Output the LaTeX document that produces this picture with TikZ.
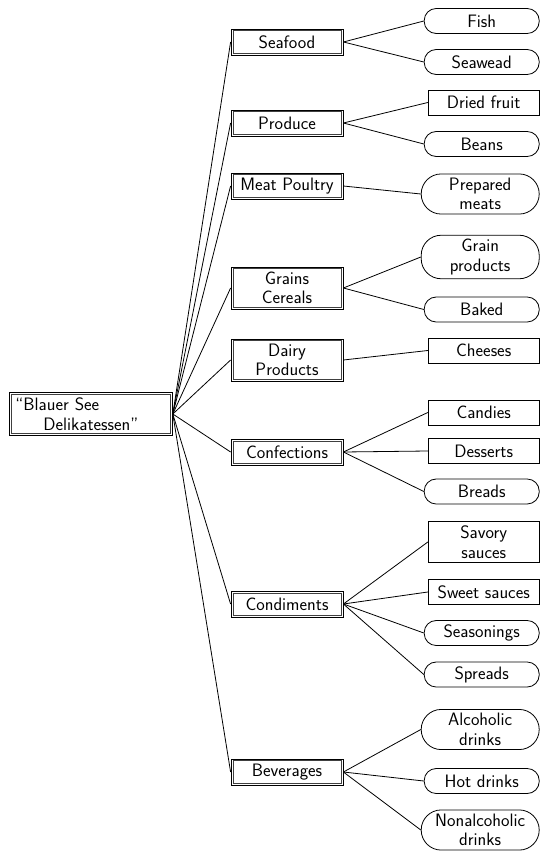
\documentclass[tikz,border=0pt]{standalone}
\begin{document}
\begin{tikzpicture}[x=1pt,y=-1pt,
  every node/.style={font=\sffamily\fontsize{18}{19.5}\selectfont},
  rootbox/.style={draw,line width=0.8pt,align=left,
    text width=151pt,inner xsep=6pt,inner ysep=3pt,minimum height=43pt,anchor=west},
  catbox/.style={draw,line width=0.8pt,align=center,
    minimum width=112pt,minimum height=26pt,inner xsep=2pt,inner ysep=5pt},
  innerline/.style={line width=0.6pt,draw=black!75},
  leafpill/.style={draw,line width=0.8pt,rounded corners=12pt,align=center,
    minimum width=115pt,minimum height=25pt,inner xsep=2pt,inner ysep=4pt,anchor=east},
  leafpilltall/.style={leafpill,rounded corners=20pt,minimum width=118pt},
  leafrect/.style={draw,line width=0.8pt,align=center,
    minimum width=111pt,minimum height=25pt,inner xsep=2pt,inner ysep=4pt,anchor=east},
  link/.style={line width=0.8pt}]
\useasboundingbox (0,0) rectangle (541,853);

% root
\node[rootbox] (root) at (9,414) {“Blauer See\\\hspace*{28pt}Delikatessen”};

% categories
\node[catbox] (sea)  at (287,42)  {Seafood};
\node[catbox] (prod) at (287,123) {Produce};
\node[catbox] (meat) at (287,186) {Meat Poultry};
\node[catbox] (gra)  at (287,288) {Grains\\Cereals};
\node[catbox] (dai)  at (287,360) {Dairy\\Products};
\node[catbox] (conf) at (287,452) {Confections};
\node[catbox] (cond) at (287,604) {Condiments};
\node[catbox] (bev)  at (287,772) {Beverages};

% second frame line inside the double-bordered boxes
\foreach \n in {root,sea,prod,meat,gra,dai,conf,cond,bev}
  \draw[innerline] ([shift={(2.2,2.2)}]\n.north west) rectangle ([shift={(-2.2,-2.2)}]\n.south east);

% products
\node[leafpill]     (fish)  at (539.6,21)    {Fish};
\node[leafpill]     (weed)  at (539.6,62)    {Seawead};
\node[leafrect]     (dried) at (539.6,102.5) {Dried fruit};
\node[leafpill]     (beans) at (539.6,144)   {Beans};
\node[leafpilltall] (prep)  at (539.6,194)   {Prepared\\meats};
\node[leafpilltall] (grain) at (539.6,257)   {Grain\\products};
\node[leafpill]     (baked) at (539.6,309.5) {Baked};
\node[leafrect]     (chee)  at (539.6,350.5) {Cheeses};
\node[leafrect]     (cand)  at (539.6,412.5) {Candies};
\node[leafrect]     (dess)  at (539.6,451)   {Desserts};
\node[leafpill]     (bread) at (539.6,491.5) {Breads};
\node[leafrect]     (savo)  at (539.6,542)   {Savory\\sauces};
\node[leafrect]     (swee)  at (539.6,592)   {Sweet sauces};
\node[leafpill]     (seas)  at (539.6,633)   {Seasonings};
\node[leafpill]     (spre)  at (539.6,674.5) {Spreads};
\node[leafpilltall] (alc)   at (539.6,729.5) {Alcoholic\\drinks};
\node[leafpill]     (hot)   at (539.6,781)   {Hot drinks};
\node[leafpilltall] (nonal) at (539.6,830)   {Nonalcoholic\\drinks};

% root to categories
\foreach \c in {sea,prod,meat,gra,dai,conf,cond,bev}
  \draw[link] (root.east) -- (\c.west);

% categories to products
\foreach \a/\b in {sea/fish,sea/weed,prod/dried,prod/beans,meat/prep,
    gra/grain,gra/baked,dai/chee,conf/cand,conf/dess,conf/bread,
    cond/savo,cond/swee,cond/seas,cond/spre,bev/alc,bev/hot,bev/nonal}
  \draw[link] (\a.east) -- (\b.west);
\end{tikzpicture}
\end{document}
